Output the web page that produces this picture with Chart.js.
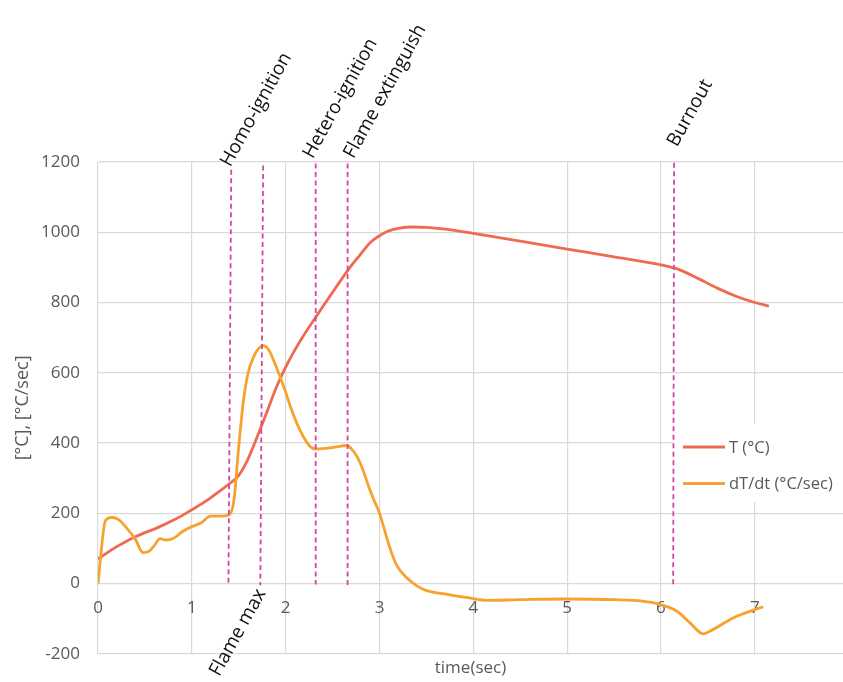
<!DOCTYPE html>
<html><head><meta charset="utf-8">
<script src="https://cdn.jsdelivr.net/npm/chart.js@4/dist/chart.umd.min.js"></script>
<style>html,body{margin:0;padding:0;background:#fff;overflow:hidden}canvas{display:block}</style>
</head><body>
<canvas id="c" width="843" height="682"></canvas>
<script>
// ---- data ----
const seriesNames = ['T (°C)', 'dT/dt (°C/sec)'];
const tTime   = [0, 0.1, 0.2, 0.3, 0.4, 0.5, 0.6, 0.7, 0.8, 0.9, 1.0, 1.1, 1.2, 1.3, 1.4, 1.5, 1.6, 1.7, 1.8, 1.9, 2.0, 2.1, 2.2, 2.3, 2.4, 2.5, 2.6, 2.7, 2.8, 2.85, 2.9, 2.95, 3.0, 3.05, 3.1, 3.2, 3.35, 3.5, 3.7, 4.0, 4.5, 5.0, 5.5, 6.0, 6.2, 6.4, 6.6, 6.8, 7.0, 7.15];
const tValues = [70, 88, 105, 120, 133, 145, 155, 167, 180, 194, 210, 226, 244, 264, 284, 308, 355, 420, 488, 558, 616, 666, 710, 750, 790, 829, 868, 905, 938, 955, 970, 981, 990, 998, 1004, 1011, 1015, 1014, 1009, 997, 975, 952, 930, 907, 893, 868, 841, 818, 800, 790];
const dTime   = [0, 0.08, 0.15, 0.22, 0.3, 0.4, 0.48, 0.55, 0.6, 0.66, 0.72, 0.8, 0.9, 1.0, 1.1, 1.2, 1.3, 1.4, 1.45, 1.5, 1.55, 1.6, 1.66, 1.7, 1.76, 1.82, 1.88, 1.93, 2.0, 2.05, 2.15, 2.26, 2.33, 2.5, 2.65, 2.7, 2.76, 2.82, 2.88, 2.94, 2.99, 3.04, 3.1, 3.18, 3.33, 3.47, 3.72, 3.96, 4.14, 4.5, 5.0, 5.5, 5.8, 6.0, 6.17, 6.31, 6.45, 6.52, 6.77, 7.0, 7.09];
const dValues = [0, 180, 188, 182, 160, 125, 88, 93, 108, 128, 124, 128, 148, 162, 173, 192, 192, 196, 240, 390, 520, 600, 646, 665, 677, 665, 630, 596, 545, 504, 438, 390, 383, 387, 393, 384, 362, 326, 280, 238, 208, 165, 110, 54, 7, -17, -31, -41, -48, -46, -44, -46, -50, -60, -79, -112, -143, -136, -98, -74, -66];
const markerNames       = ['Homo-ignition', 'Flame max', 'Hetero-ignition', 'Flame extinguish', 'Burnout'];
const markerTopTime     = [1.42, 1.76, 2.32, 2.66, 6.14];
const markerBottomTime  = [1.39, 1.73, 2.32, 2.66, 6.13];
const markerTopValue    = [1178, 1190, 1196, 1196, 1198];
const markerBottomValue = [-5, -5, -3, -10, -10];
const markerLabelSide   = ['top', 'bottom', 'top', 'top', 'top'];
const xTickValues = [0, 1, 2, 3, 4, 5, 6, 7];
const yTickValues = [-200, 0, 200, 400, 600, 800, 1000, 1200];
const xTitle = 'time(sec)';
const yTitle = '[°C], [°C/sec]';

// ---- styles ----
const FONT = '"Open Sans", "Noto Sans", sans-serif';
const GRID = '#d9d9d9';
const TEXT = '#595959';
const colT = '#EE6A50';
const colD = '#F8A22E';
const colMarker = '#D0479F';
const labelNudge = [[-1, -2], [-41, 92], [-3, -4], [6, -4], [3, -15]];
const labelAngle = -61;

const datasets = [];
markerNames.forEach((n, i) => {
  datasets.push({
    label: n,
    data: [{x: markerTopTime[i], y: markerTopValue[i]}, {x: markerBottomTime[i], y: markerBottomValue[i]}],
    borderColor: colMarker, borderWidth: 1.8, borderDash: [5, 3.5], pointRadius: 0, order: 0, tension: 0
  });
});
datasets.push({
  label: seriesNames[1],
  data: dTime.map((t, i) => ({x: t, y: dValues[i]})),
  borderColor: colD, borderWidth: 2.8, pointRadius: 0, cubicInterpolationMode: 'monotone', order: 1
});
datasets.push({
  label: seriesNames[0],
  data: tTime.map((t, i) => ({x: t, y: tValues[i]})),
  borderColor: colT, borderWidth: 2.8, pointRadius: 0, cubicInterpolationMode: 'monotone', order: 2
});

const overlay = {
  id: 'overlay',
  beforeDatasetsDraw(chart) {
    const {ctx, chartArea: a, scales: {x, y}} = chart;
    ctx.save();
    ctx.font = '17px ' + FONT;
    ctx.fillStyle = TEXT;
    ctx.textAlign = 'center';
    ctx.textBaseline = 'middle';
    const y0 = y.getPixelForValue(0);
    xTickValues.forEach(v => ctx.fillText(String(v), x.getPixelForValue(v), y0 + 25));
    // legend
    const lx = a.right - 170, ly = 424;
    ctx.fillStyle = '#fff';
    ctx.fillRect(lx, ly, 170, 78);
    const rows = [[seriesNames[0], colT, 447], [seriesNames[1], colD, 483.5]];
    ctx.font = '16.5px ' + FONT;
    ctx.textAlign = 'left';
    rows.forEach(([txt, col, ry]) => {
      ctx.strokeStyle = col; ctx.lineWidth = 2.8;
      ctx.beginPath(); ctx.moveTo(lx + 10, ry); ctx.lineTo(lx + 52, ry); ctx.stroke();
      ctx.fillStyle = TEXT;
      ctx.fillText(txt, lx + 56, ry + 1);
    });
    ctx.restore();
  },
  afterDraw(chart) {
    const {ctx, scales: {x, y}} = chart;
    ctx.save();
    ctx.font = '19px ' + FONT;
    ctx.fillStyle = '#111';
    ctx.textBaseline = 'alphabetic';
    ctx.textAlign = 'left';
    markerNames.forEach((n, i) => {
      const top = markerLabelSide[i] === 'top';
      const px = x.getPixelForValue(top ? markerTopTime[i] : markerBottomTime[i]) + labelNudge[i][0];
      const py = y.getPixelForValue(top ? markerTopValue[i] : markerBottomValue[i]) + labelNudge[i][1];
      ctx.save();
      ctx.translate(px, py);
      ctx.rotate(labelAngle * Math.PI / 180);
      ctx.fillText(n, 0, 0);
      ctx.restore();
    });
    ctx.restore();
  }
};

new Chart(document.getElementById('c'), {
  type: 'line',
  data: {datasets},
  options: {
    responsive: false, animation: false, devicePixelRatio: 1,
    layout: {padding: {top: 162, left: 0, right: 0, bottom: 0}},
    plugins: {legend: {display: false}, tooltip: {enabled: false}},
    scales: {
      x: {
        type: 'linear', min: 0, max: 7.94,
        ticks: {display: false, stepSize: 1},
        grid: {color: GRID, lineWidth: 1.2, drawTicks: false},
        border: {display: false},
        title: {display: true, text: xTitle, color: TEXT, font: {family: FONT, size: 17}, padding: {top: 0, bottom: 2}},
        afterBuildTicks: s => { s.ticks = xTickValues.map(v => ({value: v})); },
        afterFit: s => { s.height = 27; }
      },
      y: {
        type: 'linear', min: -200, max: 1200,
        ticks: {stepSize: 200, color: TEXT, font: {family: FONT, size: 17}, padding: 18, callback: v => String(v)},
        grid: {color: GRID, lineWidth: 1.2, drawTicks: false},
        border: {display: false},
        title: {display: true, text: yTitle, color: TEXT, font: {family: FONT, size: 18}, padding: {top: 12, bottom: 0}},
        afterBuildTicks: s => { s.ticks = yTickValues.map(v => ({value: v})); },
        afterFit: s => { s.width = 98; }
      }
    }
  },
  plugins: [overlay]
});
</script>
</body></html>
